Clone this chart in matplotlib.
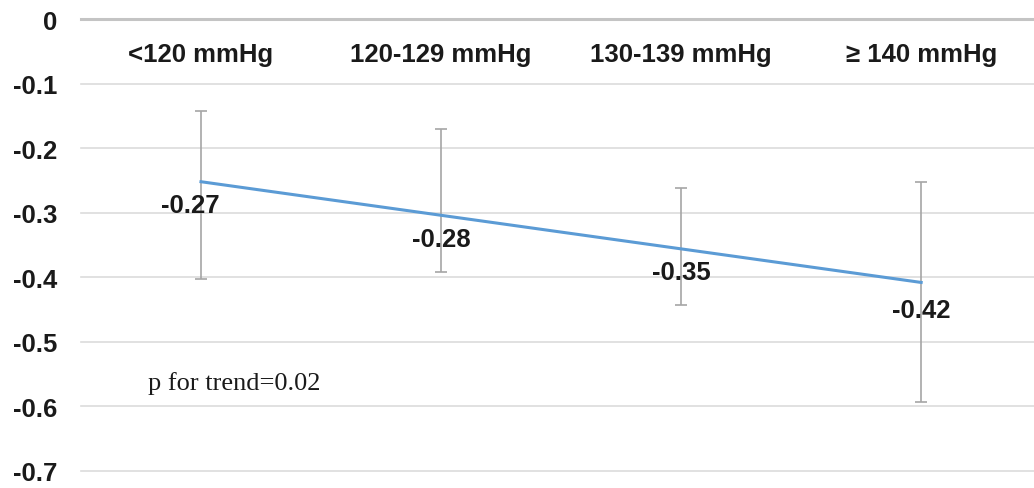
import numpy as np
import matplotlib.pyplot as plt

# Categorías y valores
categorias = ['<120 mmHg', '120-129 mmHg', '130-139 mmHg', '≥ 140 mmHg']
valores = [-0.27, -0.28, -0.35, -0.42]
ic_superior = [-0.142, -0.170, -0.262, -0.252]
ic_inferior = [-0.402, -0.392, -0.443, -0.593]
etiquetas = ['-0.27', '-0.28', '-0.35', '-0.42']
y_ticks = [0, -0.1, -0.2, -0.3, -0.4, -0.5, -0.6, -0.7]

x = np.arange(len(categorias))

fig = plt.figure(figsize=(10.34, 4.89), dpi=100)
ax = fig.add_axes([0.0783, 0.0348, 0.9217, 0.9243])

# Líneas de la cuadrícula
for t in y_ticks:
    if t == 0:
        ax.axhline(t, color='#c4c4c4', lw=2.2, zorder=0, clip_on=False)
    else:
        ax.axhline(t, color='#dcdcdc', lw=1.2, zorder=0, clip_on=False)

# Barras de error (intervalo de confianza)
valores_arr = np.array(valores)
err = [valores_arr - np.array(ic_inferior), np.array(ic_superior) - valores_arr]
ax.errorbar(x, valores, yerr=err, fmt='none', ecolor='#a6a6a6', elinewidth=1.2,
            capsize=4, capthick=1.2, zorder=2)

# Línea de tendencia lineal
coef = np.polyfit(x, valores, 1)
tendencia = np.polyval(coef, x)
ax.plot(x, tendencia, color='#5b9bd5', lw=2.2, zorder=3)

# Etiquetas de datos
for i, (xi, yi) in enumerate(zip(x, tendencia)):
    dx = -8 if i == 0 else 0
    dy = -20 if i == 3 else -17
    ax.annotate(etiquetas[i], (xi, yi), xytext=(dx, dy), textcoords='offset points',
                ha='center', va='center', fontsize=18.5, fontweight='bold',
                family='Liberation Sans', color='#1a1a1a', zorder=4)

# Nombres de categorías arriba
for xi, c in zip(x, categorias):
    ax.text(xi, -0.054, c, ha='center', va='center', fontsize=18.5, fontweight='bold',
            family='Liberation Sans', color='#1a1a1a')

ax.text(-0.22, -0.563, 'p for trend=0.02', ha='left', va='center', fontsize=19,
        family='Liberation Serif', color='#1a1a1a')

ax.set_xlim(-0.5, 3.47)
ax.set_ylim(-0.7, 0)
ax.set_xticks([])
ax.set_yticks(y_ticks)
ax.set_yticklabels(['0', '-0.1', '-0.2', '-0.3', '-0.4', '-0.5', '-0.6', '-0.7'],
                   fontsize=18.5, fontweight='bold', family='Liberation Sans', color='#1a1a1a')
ax.tick_params(axis='y', length=0, pad=17)
for s in ax.spines.values():
    s.set_visible(False)

plt.savefig('out.png', dpi=100)
